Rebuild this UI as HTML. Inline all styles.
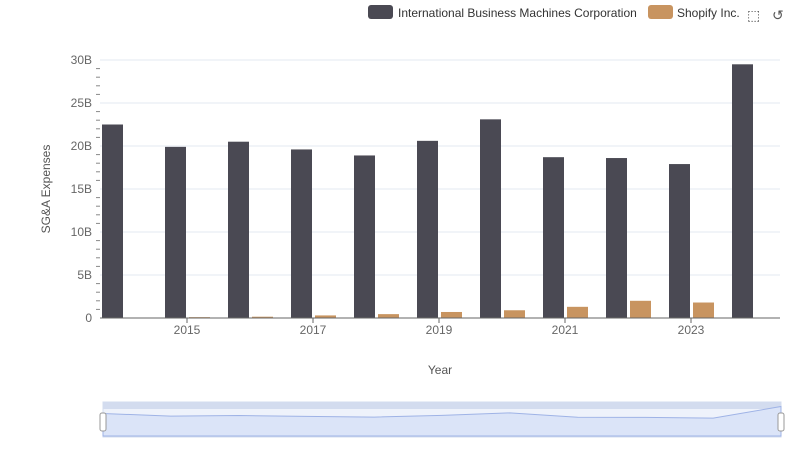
<!DOCTYPE html>
<html><head><meta charset="utf-8"><style>
body{margin:0;background:#fff;font-family:"Liberation Sans",sans-serif;}
svg text{font-family:"Liberation Sans",sans-serif;}
</style></head><body>
<svg width="800" height="461">
<g>
<rect x="368" y="5" width="25" height="14" rx="3" fill="#4a4953"/>
<text x="398" y="17" font-size="12" fill="#333">International Business Machines Corporation</text>
<rect x="648" y="5" width="25" height="14" rx="3" fill="#c89460"/>
<text x="677" y="17" font-size="12" fill="#333">Shopify Inc.</text>
<text x="747" y="20" font-size="14" fill="#555">⬚</text>
<text x="772" y="20" font-size="14" fill="#555">↺</text>
</g>
<g id="grid"></g>
<g id="bars"></g>
<g id="axes"></g>
<text transform="translate(50,189) rotate(-90)" text-anchor="middle" font-size="12" fill="#555">SG&amp;A Expenses</text>
<text x="440" y="374" text-anchor="middle" font-size="12" fill="#555">Year</text>
<g>
<rect x="103" y="402" width="678" height="35" fill="#eef2fb" stroke="#d3dcef"/>
<rect x="103" y="402" width="678" height="7" fill="#d3dcef"/>
<path id="navline" fill="#dbe4f8" stroke="#9fb3e6" stroke-width="1"/>
<rect x="100" y="413" width="6" height="18" rx="2" fill="#fff" stroke="#999"/>
<rect x="778" y="413" width="6" height="18" rx="2" fill="#fff" stroke="#999"/>
</g>
</svg>
<script>
const years=[2014,2015,2016,2017,2018,2019,2020,2021,2022,2023,2024];
const ibm=[22.5,19.9,20.5,19.6,18.9,20.6,23.1,18.7,18.6,17.9,29.5];
const shop=[0.05,0.1,0.15,0.3,0.45,0.7,0.9,1.3,2.0,1.8,0];
const yTicks=[0,5,10,15,20,25,30];
const yLabels=["0","5B","10B","15B","20B","25B","30B"];
const xLabelYears=[2015,2017,2019,2021,2023];
const NS="http://www.w3.org/2000/svg";
const y0=318,yTop=60,yMax=30;
const yS=v=>y0-(v/yMax)*(y0-yTop);
const xC=i=>124+63*i;
function mk(t,a,p){const e=document.createElementNS(NS,t);for(const k in a)e.setAttribute(k,a[k]);p.appendChild(e);return e;}
const grid=document.getElementById('grid'),bars=document.getElementById('bars'),axes=document.getElementById('axes');
yTicks.forEach((v,i)=>{
 if(v>0){const l=mk('line',{x1:100,x2:780,y1:yS(v),y2:yS(v),stroke:'#e3e8f2'},grid);
 
 }
 const t=mk('text',{x:92,y:yS(v)+4,'text-anchor':'end','font-size':12,fill:'#666'},axes);
 t.textContent=yLabels[i];
 
 
});
for(let v=0;v<=yMax;v+=1){if(v%5)mk('line',{x1:96,x2:100,y1:yS(v),y2:yS(v),stroke:'#888'},axes);}
const ax=mk('line',{x1:100,x2:780,y1:y0,y2:y0,stroke:'#666'},axes);


years.forEach((yr,i)=>{
 const c=xC(i);
 const b=mk('rect',{x:c-22,y:yS(ibm[i]),width:21,height:y0-yS(ibm[i]),fill:'#4a4953'},bars);
 
 
 if(shop[i]>0){const s=mk('rect',{x:c+2,y:yS(shop[i]),width:21,height:y0-yS(shop[i]),fill:'#c89460'},bars);
 
 }
 if(xLabelYears.includes(yr)){
  mk('line',{x1:c,x2:c,y1:y0,y2:y0+5,stroke:'#666'},axes);
  const t=mk('text',{x:c,y:y0+16,'text-anchor':'middle','font-size':12,fill:'#666'},axes);
  t.textContent=yr;
  
  
 }
});
// navigator line
const nx=i=>103+678*i/(years.length-1), ny=v=>436-(v/yMax)*30;
let d='M103,436';years.forEach((yr,i)=>{d+=' L'+nx(i)+','+ny(ibm[i]);});d+=' L781,436 Z';
document.getElementById('navline').setAttribute('d',d);
</script>
</body></html>
